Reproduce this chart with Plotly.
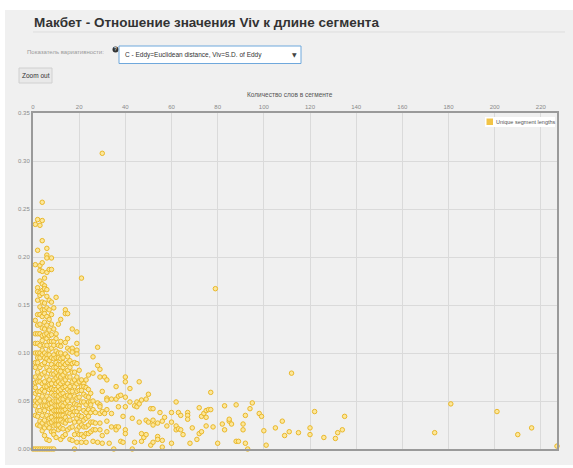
import plotly.graph_objects as go

# ---------------- data ----------------
x_ticks = [0, 20, 40, 60, 80, 100, 120, 140, 160, 180, 200, 220]
y_ticks = [0.00, 0.05, 0.10, 0.15, 0.20, 0.25, 0.30, 0.35]

zero_points = [(0, 0.0), (1, 0.0), (2, 0.0), (3, 0.0), (4, 0.0), (5, 0.0), (6, 0.0),
               (7, 0.0), (8, 0.0), (9, 0.0), (18, 0.0)]

core_points = [
    (1, 0.234), (1, 0.192), (1, 0.134), (1, 0.120), (1, 0.110), (1, 0.100), (1, 0.090), (1, 0.085),
    (1, 0.075), (1, 0.069), (1, 0.064), (1, 0.058), (1, 0.050), (1, 0.045), (1, 0.035),
    (2, 0.239), (2, 0.207), (2, 0.168), (2, 0.164), (2, 0.155), (2, 0.140), (2, 0.129), (2, 0.120),
    (2, 0.110), (2, 0.100), (2, 0.095), (2, 0.090), (2, 0.080), (2, 0.070), (2, 0.060), (2, 0.053),
    (2, 0.048), (2, 0.040), (2, 0.034), (2, 0.025),
    (3, 0.233), (3, 0.191), (3, 0.186), (3, 0.175), (3, 0.163), (3, 0.160), (3, 0.148), (3, 0.140),
    (3, 0.130), (3, 0.120), (3, 0.108), (3, 0.100), (3, 0.095), (3, 0.085), (3, 0.075), (3, 0.070),
    (3, 0.060), (3, 0.050), (3, 0.040), (3, 0.029), (3, 0.024),
    (4, 0.257), (4, 0.238), (4, 0.217), (4, 0.194), (4, 0.185), (4, 0.172), (4, 0.165), (4, 0.162),
    (4, 0.153), (4, 0.145), (4, 0.138), (4, 0.126), (4, 0.118), (4, 0.113), (4, 0.103), (4, 0.098),
    (4, 0.088), (4, 0.078), (4, 0.068), (4, 0.062), (4, 0.055), (4, 0.045), (4, 0.035), (4, 0.027),
    (4, 0.019),
    (5, 0.178), (5, 0.170), (5, 0.167), (5, 0.152), (5, 0.145), (5, 0.141), (5, 0.132), (5, 0.125),
    (5, 0.119), (5, 0.108), (5, 0.100), (5, 0.095), (5, 0.090), (5, 0.080), (5, 0.070), (5, 0.065),
    (5, 0.060), (5, 0.050), (5, 0.045), (5, 0.040), (5, 0.030), (5, 0.022), (5, 0.014),
    (6, 0.209), (6, 0.202), (6, 0.199), (6, 0.184), (6, 0.166), (6, 0.159), (6, 0.147), (6, 0.138),
    (6, 0.129), (6, 0.120), (6, 0.115), (6, 0.108), (6, 0.098), (6, 0.094), (6, 0.085), (6, 0.075),
    (6, 0.065), (6, 0.055), (6, 0.045), (6, 0.035), (6, 0.025), (6, 0.010),
    (7, 0.187), (7, 0.155), (7, 0.145), (7, 0.135), (7, 0.124), (7, 0.118), (7, 0.112), (7, 0.103),
    (7, 0.098), (7, 0.092), (7, 0.082), (7, 0.072), (7, 0.067), (7, 0.062), (7, 0.052), (7, 0.047),
    (7, 0.042), (7, 0.032), (7, 0.027), (7, 0.022), (7, 0.009),
    (8, 0.199), (8, 0.187), (8, 0.153), (8, 0.140), (8, 0.130), (8, 0.119), (8, 0.112), (8, 0.105),
    (8, 0.095), (8, 0.088), (8, 0.078), (8, 0.068), (8, 0.063), (8, 0.058), (8, 0.048), (8, 0.043),
    (8, 0.038), (8, 0.033), (8, 0.028), (8, 0.018),
    (9, 0.147), (9, 0.125), (9, 0.112), (9, 0.108), (9, 0.098), (9, 0.094), (9, 0.085), (9, 0.078),
    (9, 0.072), (9, 0.062), (9, 0.056), (9, 0.050), (9, 0.040), (9, 0.030), (9, 0.024), (9, 0.018),
    (9, 0.015),
    (10, 0.158), (10, 0.120), (10, 0.115), (10, 0.102), (10, 0.095), (10, 0.090), (10, 0.085),
    (10, 0.080), (10, 0.074), (10, 0.068), (10, 0.062), (10, 0.056), (10, 0.050), (10, 0.045),
    (10, 0.040), (10, 0.035), (10, 0.030), (10, 0.025), (10, 0.012),
    (11, 0.130), (11, 0.108), (11, 0.100), (11, 0.095), (11, 0.088), (11, 0.082), (11, 0.076),
    (11, 0.070), (11, 0.065), (11, 0.060), (11, 0.055), (11, 0.050), (11, 0.045), (11, 0.040),
    (11, 0.035), (11, 0.030), (11, 0.025), (11, 0.020),
    (12, 0.135), (12, 0.112), (12, 0.107), (12, 0.100), (12, 0.094), (12, 0.088), (12, 0.081),
    (12, 0.075), (12, 0.068), (12, 0.062), (12, 0.057), (12, 0.052), (12, 0.046), (12, 0.040),
    (12, 0.035), (12, 0.030), (12, 0.022), (12, 0.010),
    (13, 0.095), (13, 0.090), (13, 0.085), (13, 0.077), (13, 0.070), (13, 0.064), (13, 0.058),
    (13, 0.052), (13, 0.045), (13, 0.040), (13, 0.035), (13, 0.028), (13, 0.021), (13, 0.013),
    (14, 0.145), (14, 0.141), (14, 0.111), (14, 0.099), (14, 0.088), (14, 0.080), (14, 0.072),
    (14, 0.065), (14, 0.055), (14, 0.048), (14, 0.041), (14, 0.033), (14, 0.027), (14, 0.015),
    (15, 0.141), (15, 0.115), (15, 0.105), (15, 0.096), (15, 0.090), (15, 0.082), (15, 0.075),
    (15, 0.068), (15, 0.062), (15, 0.056), (15, 0.050), (15, 0.044), (15, 0.038), (15, 0.030),
    (15, 0.020),
    (16, 0.103), (16, 0.092), (16, 0.085), (16, 0.075), (16, 0.065), (16, 0.060), (16, 0.055),
    (16, 0.044), (16, 0.037), (16, 0.030), (16, 0.022), (16, 0.010),
    (17, 0.125), (17, 0.105), (17, 0.101), (17, 0.089), (17, 0.080), (17, 0.070), (17, 0.060),
    (17, 0.050), (17, 0.042), (17, 0.035), (17, 0.023), (17, 0.009),
    (18, 0.090), (18, 0.080), (18, 0.072), (18, 0.065), (18, 0.055), (18, 0.047), (18, 0.039),
    (18, 0.028), (18, 0.015),
    (19, 0.122), (19, 0.110), (19, 0.103), (19, 0.099), (19, 0.089), (19, 0.075), (19, 0.068),
    (19, 0.060), (19, 0.053), (19, 0.046), (19, 0.039), (19, 0.032), (19, 0.020), (19, 0.007),
    (20, 0.082), (20, 0.070), (20, 0.061), (20, 0.054), (20, 0.045), (20, 0.042), (20, 0.035),
    (20, 0.028), (20, 0.023), (20, 0.015),
    (21, 0.178), (21, 0.072), (21, 0.065), (21, 0.061), (21, 0.049), (21, 0.034), (21, 0.025),
    (21, 0.015), (21, 0.007),
    (22, 0.068), (22, 0.065), (22, 0.057), (22, 0.049), (22, 0.040), (22, 0.030), (22, 0.023),
    (22, 0.013),
    (23, 0.072), (23, 0.064), (23, 0.055), (23, 0.046), (23, 0.038), (23, 0.032), (23, 0.023),
    (23, 0.016), (23, 0.007),
    (24, 0.077), (24, 0.062), (24, 0.054), (24, 0.049), (24, 0.041), (24, 0.034), (24, 0.025),
    (24, 0.016),
    (25, 0.058), (25, 0.049), (25, 0.046), (25, 0.038), (25, 0.028), (25, 0.018),
]

mid_points = [
    (26, 0.096), (26, 0.079), (26, 0.050), (26, 0.041), (26, 0.028), (26, 0.020), (26, 0.008),
    (27, 0.038), (27, 0.027), (27, 0.020),
    (28, 0.106), (28, 0.087), (28, 0.048), (28, 0.007),
    (29, 0.083), (29, 0.075), (29, 0.046), (29, 0.044), (29, 0.037), (29, 0.027), (29, 0.020),
    (30, 0.308), (30, 0.060), (30, 0.039), (30, 0.014), (30, 0.006),
    (31, 0.075), (31, 0.037),
    (32, 0.072), (32, 0.053), (32, 0.051), (32, 0.041), (32, 0.029), (32, 0.018),
    (33, 0.006), (34, 0.052), (34, 0.037), (34, 0.023), (35, 0.0),
    (36, 0.065), (36, 0.052), (36, 0.023), (36, 0.020),
    (37, 0.055), (37, 0.044), (37, 0.023), (38, 0.056), (38, 0.008),
    (39, 0.034), (39, 0.007),
    (40, 0.075), (40, 0.070), (40, 0.054), (40, 0.044), (40, 0.020), (40, 0.016),
    (42, 0.063), (42, 0.049), (43, 0.032), (43, 0.0),
    (44, 0.045), (44, 0.007), (45, 0.049), (45, 0.044),
    (46, 0.070), (46, 0.047), (46, 0.028), (47, 0.051), (47, 0.016), (47, 0.008),
    (48, 0.012), (49, 0.052), (49, 0.030), (49, 0.015), (50, 0.057), (50, 0.028),
    (51, 0.042), (51, 0.004), (52, 0.042), (52, 0.030), (52, 0.025), (52, 0.007),
    (54, 0.027), (54, 0.013), (54, 0.010), (55, 0.038),
    (56, 0.029), (56, 0.009), (56, 0.002), (57, 0.033), (58, 0.024),
    (60, 0.038), (60, 0.028), (60, 0.006), (62, 0.049), (62, 0.024), (62, 0.020),
    (63, 0.038), (63, 0.021), (64, 0.035), (64, 0.020), (65, 0.015),
    (67, 0.038), (67, 0.035), (67, 0.031), (68, 0.006), (69, 0.022), (71, 0.010),
    (72, 0.043), (72, 0.016), (73, 0.034), (73, 0.018), (74, 0.037),
    (75, 0.040), (75, 0.033), (75, 0.024), (76, 0.041), (77, 0.059), (77, 0.041),
    (78, 0.023), (79, 0.167), (80, 0.006),
]

tail_points = [
    (82, 0.026), (83, 0.020), (83, 0.045), (85, 0.029), (85, 0.031), (86, 0.026),
    (88, 0.046), (88, 0.008), (89, 0.008), (91, 0.026), (91, 0.020), (92, 0.035),
    (92, 0.006), (93, 0.0), (94, 0.042), (95, 0.048), (98, 0.037), (99, 0.034),
    (100, 0.019), (101, 0.004), (105, 0.022), (108, 0.029), (109, 0.014), (111, 0.018),
    (112, 0.079), (115, 0.017), (120, 0.022), (120, 0.015), (122, 0.039), (126, 0.012),
    (131, 0.011), (132, 0.017), (134, 0.020), (135, 0.034), (174, 0.017), (181, 0.047),
    (201, 0.039), (210, 0.015), (216, 0.022), (227, 0.003),
]

all_points = zero_points + core_points + mid_points + tail_points
seg_len = [p[0] for p in all_points]
viv = [p[1] for p in all_points]

# ---------------- layout geometry ----------------
W, H = 573, 468
L, R, T, B = 33, 16, 113, 19
PW, PH = W - L - R, H - T - B


def px(x):
    return (x - L) / PW


def py(y):
    return (H - B - y) / PH


BG = "#f0f0f0"
FONT = "Liberation Sans, Arial, sans-serif"

fig = go.Figure()
fig.add_trace(go.Scatter(
    x=seg_len, y=viv, mode="markers", name="Unique segment lengths",
    marker=dict(size=4.5, color="rgba(252,230,150,0.95)",
                line=dict(color="#eab82a", width=1)),
    showlegend=False, cliponaxis=False, hoverinfo="skip",
))

shapes = [
    dict(type="rect", xref="paper", yref="paper", x0=px(0), x1=px(W), y0=py(0), y1=py(10),
         fillcolor="white", line=dict(width=0), layer="below"),
    dict(type="rect", xref="paper", yref="paper", x0=px(0), x1=px(5), y0=py(0), y1=py(H),
         fillcolor="white", line=dict(width=0), layer="below"),
    dict(type="rect", xref="paper", yref="paper", x0=px(0), x1=px(W), y0=py(465), y1=py(H),
         fillcolor="white", line=dict(width=0), layer="below"),
    dict(type="line", xref="paper", yref="paper", x0=px(33), x1=px(565), y0=py(32), y1=py(32),
         line=dict(color="#dddddd", width=1)),
    dict(type="circle", xref="paper", yref="paper", x0=px(112.5), x1=px(118.5), y0=py(46.5), y1=py(52.5),
         fillcolor="#333333", line=dict(width=0)),
    dict(type="rect", xref="paper", yref="paper", x0=px(119), x1=px(301), y0=py(46), y1=py(63.5),
         fillcolor="white", line=dict(color="#6fa8dc", width=1)),
    dict(type="rect", xref="paper", yref="paper", x0=px(19), x1=px(52), y0=py(68), y1=py(83),
         fillcolor="#e9e9e9", line=dict(color="#d0d0d0", width=1)),
    dict(type="rect", xref="paper", yref="paper", x0=px(485), x1=px(555), y0=py(117), y1=py(127),
         fillcolor="white", line=dict(width=0)),
    dict(type="rect", xref="paper", yref="paper", x0=px(486.5), x1=px(493), y0=py(118.5), y1=py(125),
         fillcolor="#f2c446", line=dict(width=0)),
]

annotations = [
    dict(text="<b>Макбет - Отношение значения Viv к длине сегмента</b>", xref="paper", yref="paper",
         x=px(32), y=py(22), xanchor="left", yanchor="middle", showarrow=False,
         font=dict(family=FONT, size=13.5, color="#333333")),
    dict(text="Показатель вариативности:", xref="paper", yref="paper",
         x=px(25), y=py(52), xanchor="left", yanchor="middle", showarrow=False,
         font=dict(family=FONT, size=6, color="#9a9a9a")),
    dict(text="?", xref="paper", yref="paper", x=px(115.5), y=py(49.5), xanchor="center",
         yanchor="middle", showarrow=False,
         font=dict(family=FONT, size=5, color="white")),
    dict(text="C - Eddy=Euclidean distance, Viv=S.D. of Eddy", xref="paper", yref="paper",
         x=px(123), y=py(55), xanchor="left", yanchor="middle", showarrow=False,
         font=dict(family=FONT, size=6.5, color="#333333")),
    dict(text="▼", xref="paper", yref="paper", x=px(294), y=py(54.5), xanchor="center",
         yanchor="middle", showarrow=False,
         font=dict(family="DejaVu Sans, sans-serif", size=6, color="#444444")),
    dict(text="Zoom out", xref="paper", yref="paper", x=px(35.5), y=py(75.5), xanchor="center",
         yanchor="middle", showarrow=False,
         font=dict(family=FONT, size=6.5, color="#333333")),
    dict(text="Количество слов в сегменте", xref="paper", yref="paper", x=px(290), y=py(94),
         xanchor="center", yanchor="middle", showarrow=False,
         font=dict(family=FONT, size=6.5, color="#555555")),
    dict(text="Unique segment lengths", xref="paper", yref="paper", x=px(494), y=py(122),
         xanchor="left", yanchor="middle", showarrow=False,
         font=dict(family=FONT, size=5.5, color="#555555")),
]

axis_common = dict(showgrid=True, gridcolor="#dadada", gridwidth=1, zeroline=False,
                   showline=True, linecolor="#9a9a9a", linewidth=2, mirror=True,
                   ticks="", automargin=False,
                   tickfont=dict(family=FONT, size=6, color="#8a8a8a"))

fig.update_layout(
    width=W, height=H, margin=dict(l=L, r=R, t=T, b=B, pad=0, autoexpand=False),
    paper_bgcolor=BG, plot_bgcolor=BG, showlegend=False,
    shapes=shapes, annotations=annotations,
    xaxis=dict(range=[0, 227], side="top", tickvals=x_ticks,
               ticktext=[str(v) for v in x_ticks], **axis_common),
    yaxis=dict(range=[0, 0.35], tickvals=y_ticks,
               ticktext=[f"{v:.2f}" for v in y_ticks], **axis_common),
)

fig.write_html(
    "out.html",
    config={"displayModeBar": False},
    post_script="document.body.style.margin='0';document.body.style.padding='0';"
                "document.body.style.overflow='hidden';",
)
